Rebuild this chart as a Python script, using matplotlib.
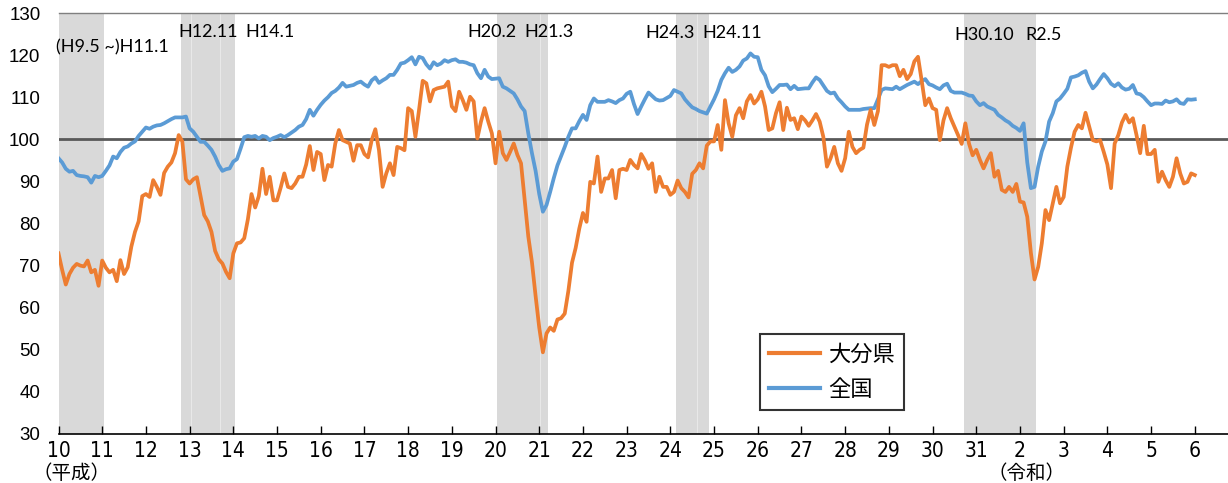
import numpy as np
import matplotlib
matplotlib.use('Agg')
import matplotlib.pyplot as plt
from matplotlib import font_manager as fm
from matplotlib.lines import Line2D

# monthly index, Jan 1998 .. Jan 2024
oita = [
    72.9, 69.0, 65.5, 68.0, 69.5, 70.4, 70.0, 69.8, 71.2, 68.4, 69.0, 65.2,  # 1998
    71.2, 69.5, 68.4, 69.0, 66.3, 71.3, 68.0, 69.6, 74.5, 78.0, 80.5, 86.5,  # 1999
    87.0, 86.3, 90.3, 88.7, 86.8, 92.0, 93.5, 94.5, 96.7, 101.0, 99.5, 90.5,  # 2000
    89.5, 90.5, 91.0, 86.5, 82.0, 80.5, 78.0, 73.5, 71.5, 70.5, 68.5, 67.0,  # 2001
    72.9, 75.3, 75.5, 76.5, 81.0, 87.0, 83.8, 86.5, 93.0, 87.0, 91.1, 85.5,  # 2002
    85.5, 88.5, 91.9, 88.7, 88.4, 89.5, 91.1, 91.1, 94.0, 98.4, 92.7, 97.0,  # 2003
    96.5, 90.3, 93.9, 93.5, 99.0, 102.2, 99.8, 99.4, 99.0, 94.9, 98.6, 98.6,  # 2004
    96.5, 95.7, 99.8, 102.4, 97.4, 88.7, 91.9, 94.3, 91.5, 98.2, 97.9, 97.4,  # 2005
    107.4, 106.7, 100.6, 107.0, 113.9, 113.3, 109.0, 111.7, 112.1, 112.3, 112.5, 113.7,  # 2006
    107.8, 106.7, 111.3, 109.3, 107.0, 110.1, 109.0, 100.2, 104.2, 107.4, 104.2, 101.4,  # 2007
    94.3, 101.8, 96.7, 95.1, 97.0, 99.0, 96.3, 94.3, 85.6, 76.9, 70.8, 62.8,  # 2008
    55.3, 49.4, 53.9, 55.3, 54.5, 57.2, 57.5, 58.6, 64.0, 70.7, 74.2, 78.8,  # 2009
    82.5, 80.4, 89.9, 89.5, 95.9, 87.5, 90.7, 90.7, 92.7, 86.0, 92.7, 93.0,  # 2010
    92.7, 95.1, 93.9, 93.1, 96.5, 95.0, 93.0, 94.3, 87.5, 91.1, 88.7, 88.7,  # 2011
    86.8, 87.5, 90.2, 88.4, 87.5, 86.2, 91.8, 92.7, 94.3, 93.1, 98.5, 99.5,  # 2012
    99.5, 103.4, 97.5, 109.3, 103.8, 100.6, 105.7, 107.4, 105.0, 109.0, 110.5, 108.5,  # 2013
    109.5, 111.3, 107.8, 102.2, 102.6, 106.2, 108.8, 102.2, 107.5, 104.6, 105.0, 102.4,  # 2014
    105.4, 104.5, 103.2, 104.5, 106.0, 104.2, 100.6, 93.5, 95.5, 98.2, 94.3, 92.5,  # 2015
    95.5, 101.8, 98.2, 96.7, 97.5, 98.0, 103.5, 107.0, 103.4, 106.7, 117.6, 117.6,  # 2016
    117.2, 117.6, 117.6, 115.0, 116.5, 114.3, 115.5, 118.5, 119.6, 114.0, 108.1, 109.7,  # 2017
    107.4, 107.0, 99.8, 104.5, 107.4, 105.0, 103.0, 101.0, 98.9, 103.8, 99.0, 96.2,  # 2018
    97.5, 95.1, 93.1, 95.1, 96.7, 91.1, 92.5, 88.0, 87.5, 88.7, 87.5, 89.4,  # 2019
    85.2, 85.0, 81.6, 73.0, 66.7, 69.7, 75.3, 83.2, 80.8, 84.8, 88.7, 84.8,  # 2020
    86.3, 93.5, 98.0, 101.8, 103.4, 102.6, 106.3, 103.0, 99.8, 99.5, 99.8, 97.0,  # 2021
    94.0, 88.4, 99.0, 101.0, 104.0, 105.8, 104.0, 105.0, 101.0, 96.7, 103.2, 96.5,  # 2022
    96.5, 97.5, 89.9, 92.3, 90.3, 88.7, 91.1, 95.5, 91.9, 89.5, 89.9, 91.9,  # 2023
    91.5,  # 2024
]

zenkoku = [
    95.5, 94.5, 93.0, 92.3, 92.5, 91.5, 91.3, 91.2, 91.0, 89.7, 91.3, 91.0,  # 1998
    91.3, 92.5, 93.8, 95.9, 95.5, 97.0, 98.0, 98.3, 99.0, 99.5, 100.8, 101.8,  # 1999
    102.8, 102.5, 103.0, 103.3, 103.4, 103.8, 104.3, 104.8, 105.2, 105.2, 105.2, 105.4,  # 2000
    102.6, 101.8, 100.6, 99.4, 99.4, 98.5, 97.5, 95.9, 93.9, 92.5, 92.9, 93.1,  # 2001
    94.7, 95.3, 97.8, 100.5, 100.8, 100.6, 100.8, 100.2, 100.8, 100.6, 99.8, 100.3,  # 2002
    100.6, 101.0, 100.5, 101.0, 101.6, 102.2, 103.0, 103.4, 104.8, 107.0, 105.6, 107.0,  # 2003
    108.2, 109.2, 110.0, 111.0, 111.5, 112.3, 113.4, 112.5, 112.7, 112.9, 113.4, 113.7,  # 2004
    113.0, 112.5, 114.0, 114.7, 113.4, 114.0, 114.5, 115.3, 115.3, 116.5, 118.0, 118.2,  # 2005
    118.8, 119.5, 117.8, 119.6, 119.3, 117.8, 116.8, 118.3, 117.6, 118.0, 118.8, 118.4,  # 2006
    118.8, 119.0, 118.4, 118.4, 118.2, 117.8, 117.6, 115.7, 114.5, 116.5, 114.9, 114.3,  # 2007
    114.4, 114.5, 112.5, 112.1, 111.5, 110.9, 109.5, 107.8, 106.7, 101.4, 96.7, 92.5,  # 2008
    87.0, 82.8, 84.4, 87.5, 90.8, 93.8, 96.0, 98.2, 100.6, 102.6, 102.6, 104.3,  # 2009
    105.8, 104.6, 108.1, 109.7, 108.9, 108.9, 108.9, 109.3, 109.0, 108.6, 109.3, 109.7,  # 2010
    110.8, 111.3, 108.4, 106.0, 107.8, 109.5, 111.1, 110.3, 109.5, 109.2, 109.3, 109.8,  # 2011
    110.3, 111.7, 111.3, 110.9, 109.5, 108.5, 107.6, 107.2, 106.7, 106.4, 106.1, 107.8,  # 2012
    109.5, 111.5, 114.1, 115.7, 117.0, 116.0, 116.5, 117.3, 118.7, 119.2, 120.4, 119.6,  # 2013
    119.5, 116.5, 115.2, 112.6, 111.2, 112.0, 112.9, 112.9, 113.0, 111.9, 112.7, 111.9,  # 2014
    112.0, 112.1, 112.1, 113.5, 114.7, 114.1, 112.8, 111.5, 110.9, 111.1, 109.7, 108.8,  # 2015
    107.8, 107.0, 107.0, 107.0, 107.0, 107.2, 107.3, 107.4, 107.4, 109.5, 111.7, 112.1,  # 2016
    112.0, 111.9, 112.5, 111.9, 112.4, 112.9, 113.3, 113.7, 113.1, 113.8, 114.3, 113.1,  # 2017
    112.8, 112.3, 111.9, 112.8, 113.2, 111.5, 111.1, 111.1, 111.1, 110.8, 110.4, 110.3,  # 2018
    109.0, 108.1, 108.6, 107.8, 107.4, 107.0, 105.8, 105.2, 104.5, 104.0, 103.2, 102.7,  # 2019
    102.0, 103.8, 94.5, 88.4, 88.7, 93.5, 97.1, 99.5, 104.2, 106.2, 109.0, 109.7,  # 2020
    110.8, 112.0, 114.7, 114.9, 115.2, 115.8, 116.2, 113.7, 112.1, 113.0, 114.3, 115.5,  # 2021
    114.5, 113.2, 112.6, 113.3, 112.3, 111.8, 112.0, 112.9, 110.9, 110.7, 110.0, 109.0,  # 2022
    108.1, 108.5, 108.5, 108.4, 109.2, 108.8, 109.0, 109.5, 108.6, 108.4, 109.5, 109.4,  # 2023
    109.5,  # 2024
]

# recession periods (start, end) in decimal years, with their labels
shade_start = [1998.0, 2000.80, 2008.03, 2012.13, 2018.71]
shade_end = [1999.05, 2002.05, 2009.20, 2012.89, 2020.37]
shade_labels = [['(H9.5 ~)H11.1'], ['H12.11', 'H14.1'], ['H20.2', 'H21.3'],
                ['H24.3', 'H24.11'], ['H30.10', 'R2.5']]
label_x = [[1997.94], [2000.74, 2002.27], [2007.36, 2008.65],
           [2011.44, 2012.74], [2018.49, 2020.12]]
label_y = [121.8, 125.6, 125.6, 125.2, 124.8]

year_ticks = list(range(1998, 2025))
year_labels = [str(y) for y in range(10, 32)] + ['2', '3', '4', '5', '6']

names = {f.name for f in fm.fontManager.ttflist}
narrow = 'Liberation Sans Narrow' if 'Liberation Sans Narrow' in names else 'DejaVu Sans'
cjk = ['Noto Sans CJK JP', 'DejaVu Sans']

fig = plt.figure(figsize=(12.28, 4.83), dpi=100)
ax = fig.add_axes([58.5 / 1228, 49 / 483, 1 - 58.5 / 1228, 421 / 483])

for s, e in zip(shade_start, shade_end):
    ax.axvspan(s, e, color='#d9d9d9', lw=0, zorder=0)
for xv in [2001.03, 2001.70, 2009.02, 2012.61]:
    ax.axvline(xv, color='#e8e8e8', lw=0.8, zorder=0.5)

ax.axhline(100, color='#595959', lw=2.0, zorder=1)

t = 1998 + np.arange(len(oita)) / 12.0
ax.plot(t, zenkoku, color='#5B9BD5', lw=2.7, zorder=3, solid_joinstyle='round')
ax.plot(t, oita, color='#ED7D31', lw=2.7, zorder=4, solid_joinstyle='round')

for labs, xs, yv in zip(shade_labels, label_x, label_y):
    for lab, xv in zip(labs, xs):
        ax.text(xv, yv, lab, ha='left', va='center', fontsize=13,
                family='Lato', color='black', zorder=5)

ax.set_xlim(1998.0, 2024.76)
ax.set_ylim(30, 130)
ax.set_xticks(year_ticks)
ax.set_xticklabels(year_labels, family=narrow, fontsize=15, fontstretch='condensed')
ax.set_yticks(range(30, 131, 10))
ax.set_yticklabels([str(v) for v in range(30, 131, 10)],
                   family='Liberation Sans', fontsize=13.5)
ax.tick_params(axis='x', direction='in', length=6, width=1, pad=5, color='black')
ax.tick_params(axis='y', length=0, pad=13)

for side in ['left', 'right']:
    ax.spines[side].set_visible(False)
ax.spines['top'].set_color('#7f7f7f')
ax.spines['top'].set_linewidth(1.0)
ax.spines['bottom'].set_color('black')
ax.spines['bottom'].set_linewidth(1.2)

ax.text(1998.29, -0.093, '（平成）', transform=ax.get_xaxis_transform(),
        ha='center', va='center', fontsize=14, family=cjk)
ax.text(2020.16, -0.093, '（令和）', transform=ax.get_xaxis_transform(),
        ha='center', va='center', fontsize=14, family=cjk)

handles = [Line2D([], [], color='#ED7D31', lw=3), Line2D([], [], color='#5B9BD5', lw=3)]
leg = ax.legend(handles, ['大分県', '全国'], loc='upper left',
                bbox_to_anchor=(0.600, 0.2375), borderaxespad=0,
                prop={'family': cjk, 'size': 16}, frameon=True, fancybox=False,
                handlelength=2.3, handletextpad=0.35, labelspacing=0.55,
                borderpad=0.4)
leg.get_frame().set_edgecolor('black')
leg.get_frame().set_linewidth(1.5)

fig.savefig('out.png', dpi=100)
